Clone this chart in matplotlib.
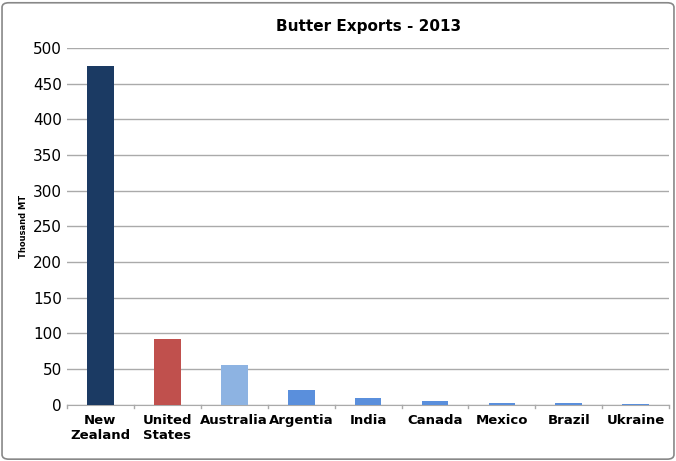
import matplotlib.pyplot as plt
from matplotlib.patches import FancyBboxPatch

countries = ["New\nZealand", "United\nStates", "Australia", "Argentia", "India",
             "Canada", "Mexico", "Brazil", "Ukraine"]
exports = [475, 92, 56, 21, 10, 5, 2, 2, 1]
colors = ["#1b3a63", "#c0504d", "#8db3e2", "#5a8fdc", "#5a8fdc",
          "#5a8fdc", "#5a8fdc", "#5a8fdc", "#5a8fdc"]

fig = plt.figure(figsize=(6.76, 4.61), dpi=100)
fig.patches.append(FancyBboxPatch((0.003, 0.004), 0.994, 0.99,
                                  boxstyle="round,pad=0,rounding_size=0.01",
                                  transform=fig.transFigure, fill=False,
                                  edgecolor="#888888", linewidth=1.2))
ax = fig.add_axes([0.099, 0.122, 0.891, 0.774])

x = range(len(countries))
ax.bar(x, exports, width=0.4, color=colors, zorder=3)
ax.set_xlim(-0.5, len(countries) - 0.5)
ax.set_ylim(0, 500)
ax.set_yticks(range(0, 501, 50))
ax.set_xticks(list(x))
ax.set_xticklabels(countries, fontweight="bold", fontsize=9.5)
ax.tick_params(axis="y", labelsize=11, length=0)
ax.tick_params(axis="x", length=0, pad=7)
ax.grid(axis="y", color="#aaaaaa", linewidth=1, zorder=0)
for s in ["top", "right", "left"]:
    ax.spines[s].set_visible(False)
ax.spines["bottom"].set_color("#aaaaaa")
for i in range(len(countries) + 1):
    ax.plot([i - 0.5, i - 0.5], [0, -5], color="#aaaaaa", lw=1, clip_on=False)
ax.set_ylabel("Thousand MT", fontsize=6, fontweight="bold")
ax.set_title("Butter Exports - 2013", fontweight="bold", fontsize=11, pad=12)

fig.savefig("out.png", dpi=100)
